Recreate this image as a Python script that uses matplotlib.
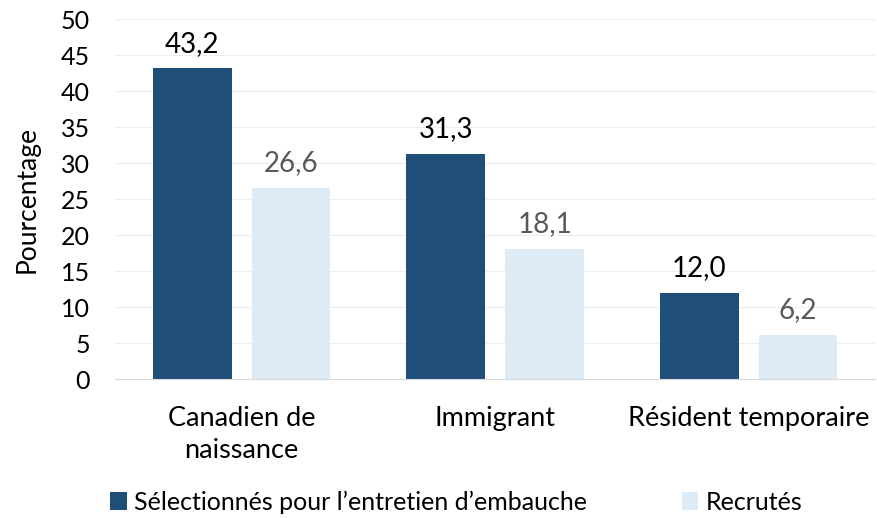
import numpy as np
import matplotlib.pyplot as plt

plt.rcParams['font.family'] = ['Lato', 'DejaVu Sans']

categories = ['Canadien de\nnaissance', 'Immigrant', 'Résident temporaire']
selectionnes = [43.2, 31.3, 12.0]
recrutes = [26.6, 18.1, 6.2]
yticks = [0, 5, 10, 15, 20, 25, 30, 35, 40, 45, 50]

dark = '#1F4E79'
light = '#DDEBF7'

fig = plt.figure(figsize=(8.78, 5.18), dpi=100)
ax = fig.add_axes([0.131, 0.268, 0.866, 0.695])

x = np.arange(len(categories))
w = 0.31
b1 = ax.bar(x - 0.195, selectionnes, w, color=dark, label="Sélectionnés pour l’entretien d’embauche")
b2 = ax.bar(x + 0.195, recrutes, w, color=light, label='Recrutés')

for rect, v in zip(b1, selectionnes):
    ax.text(rect.get_x() + rect.get_width() / 2, v + 3.4, f'{v:.1f}'.replace('.', ','),
            ha='center', va='center', fontsize=20, color='#000000')
for rect, v in zip(b2, recrutes):
    ax.text(rect.get_x() + rect.get_width() / 2, v + 3.4, f'{v:.1f}'.replace('.', ','),
            ha='center', va='center', fontsize=20, color='#595959')

ax.set_xlim(-0.5, 2.5)
ax.set_ylim(0, 50)
ax.set_yticks(yticks)
ax.set_xticks(x)
ax.set_xticklabels(categories, fontsize=19.5, linespacing=1.35)
ax.tick_params(axis='y', labelsize=18, length=0, pad=18)
ax.tick_params(axis='x', length=0, pad=19)
ax.set_ylabel('Pourcentage', fontsize=19, labelpad=15)

ax.grid(axis='y', color='#EEEEEE', lw=0.8)
ax.set_axisbelow(True)
for s in ['top', 'right', 'left']:
    ax.spines[s].set_visible(False)
ax.spines['bottom'].set_color('#D9D9D9')

fig.legend(handles=[b1, b2], loc='lower center', bbox_to_anchor=(0.52, -0.035), ncol=2,
           frameon=False, fontsize=18, handlelength=0.65, handleheight=0.7,
           handletextpad=0.3, columnspacing=3.8)

fig.savefig('out.png', dpi=100)
